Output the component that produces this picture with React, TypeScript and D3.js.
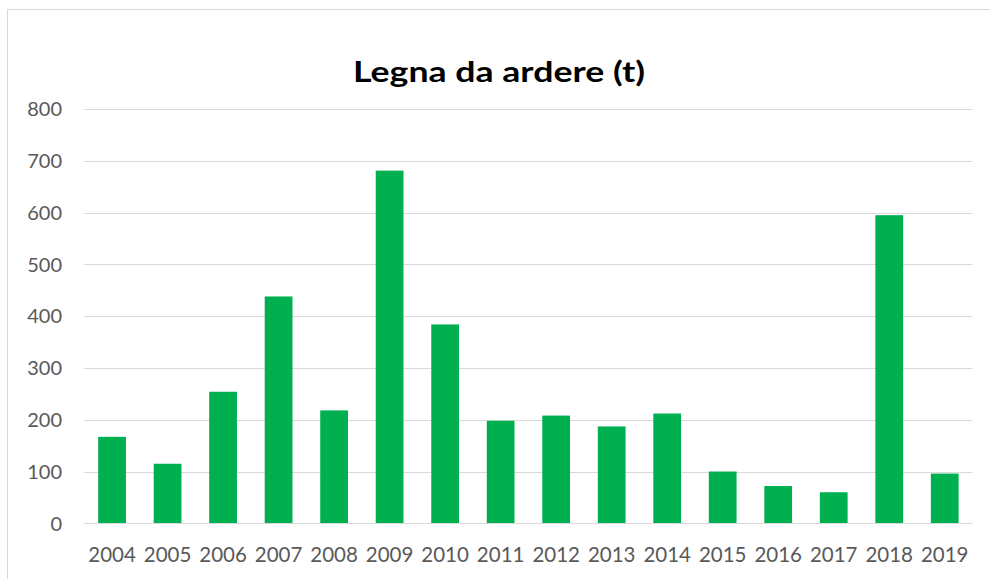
import React from "react";
import * as d3 from "d3";

const years = ["2004","2005","2006","2007","2008","2009","2010","2011","2012","2013","2014","2015","2016","2017","2018","2019"];
const values = [167, 115, 254, 438, 218, 681, 384, 198, 208, 187, 212, 100, 72, 60, 595, 96];
const yTicks = [0, 100, 200, 300, 400, 500, 600, 700, 800];
const title = "Legna da ardere (t)";

const W = 990;
const H = 579;

export default function App() {
  const x = d3.scaleBand<string>().domain(years).range([84.3, 972.5]).paddingInner(0.5).paddingOuter(0.25);
  const y = d3.scaleLinear().domain([0, 800]).range([523.3, 109]);
  return (
    <svg width={W} height={H} style={{ position: "absolute", left: 0, top: 0, background: "#fff" }}>
      <rect x={7.5} y={9.5} width={1200} height={800} fill="#fff" stroke="#d9d9d9" strokeWidth={1} />
      <text x={499} y={81.5} textAnchor="middle" fontFamily="Lato, sans-serif" fontWeight={700} fontSize={28} textLength={292} lengthAdjust="spacingAndGlyphs" fill="#000">{title}</text>
      {yTicks.map((t) => (
        <g key={t}>
          <line x1={84.3} x2={972.5} y1={Math.round(y(t)) + 0.5} y2={Math.round(y(t)) + 0.5} stroke="#d9d9d9" strokeWidth={1.2} />
          <text x={62} y={y(t)} dy="0.36em" textAnchor="end" fontFamily="Lato, sans-serif" fontSize={20} fill="#595959">{t}</text>
        </g>
      ))}
      {years.map((yr, i) => (
        <rect key={yr} x={x(yr)} y={y(values[i])} width={x.bandwidth()} height={y(0) - y(values[i])} fill="#00b050" />
      ))}
      <line x1={84.3} x2={972.5} y1={Math.round(y(0)) + 0.5} y2={Math.round(y(0)) + 0.5} stroke="#d9d9d9" strokeWidth={1.2} />
      {years.map((yr) => (
        <text key={yr} x={(x(yr) as number) + x.bandwidth() / 2} y={561.5} textAnchor="middle" fontFamily="Lato, sans-serif" fontSize={20.5} fill="#595959">{yr}</text>
      ))}
    </svg>
  );
}
